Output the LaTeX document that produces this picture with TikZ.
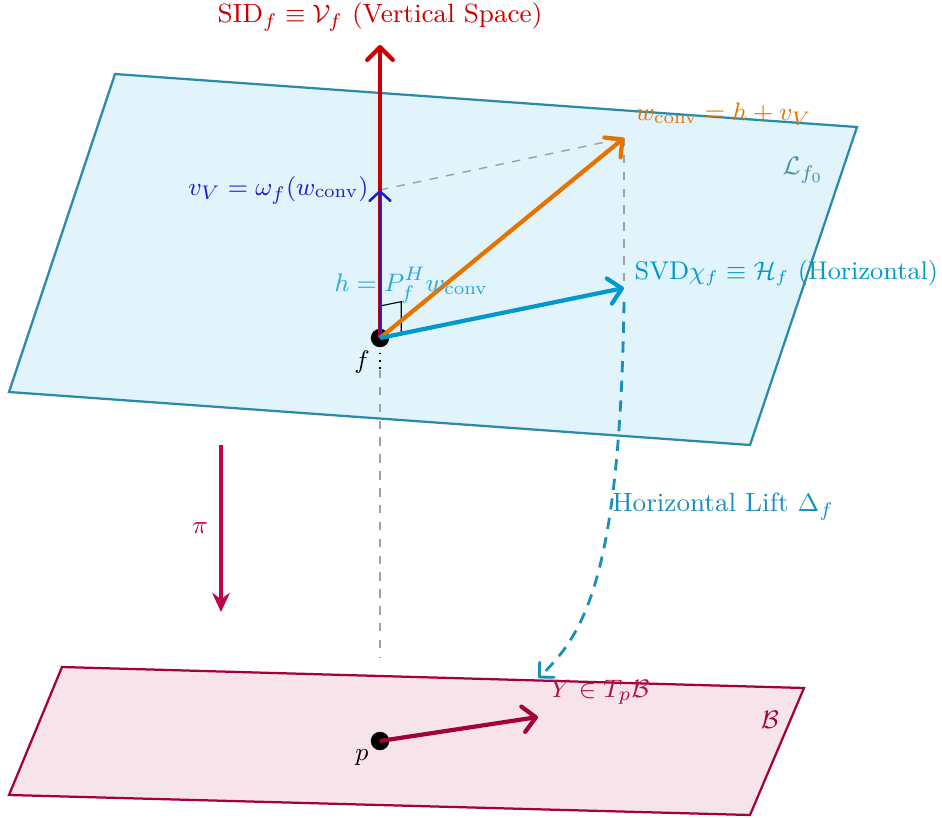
\documentclass[tikz,border=0pt]{standalone}
\usepackage{amsmath,amssymb}
\usetikzlibrary{arrows.meta,calc}
\definecolor{FiberFill}{HTML}{E1F3FB}
\definecolor{FiberLine}{HTML}{2A8AAA}
\definecolor{FiberText}{HTML}{4A8CA8}
\definecolor{BaseFill}{HTML}{F7E3EA}
\definecolor{BaseLine}{HTML}{A3003D}
\definecolor{BaseText}{HTML}{B0104A}
\definecolor{Crimson}{HTML}{C2004C}
\definecolor{VertRed}{HTML}{CC0000}
\definecolor{VBlue}{HTML}{1E1ECC}
\definecolor{Conv}{HTML}{E67300}
\definecolor{Horiz}{HTML}{0099CC}
\definecolor{HorizSoft}{HTML}{2AA8DA}
\definecolor{Lift}{HTML}{1A90B8}
\definecolor{Guide}{HTML}{A0A0A0}
\tikzset{
  every node/.style={font=\fontsize{9.4}{11}\selectfont},
  fiber/.style={draw=FiberLine,fill=FiberFill,line width=0.8pt},
  base/.style={draw=BaseLine,fill=BaseFill,line width=0.8pt},
  vec/.style={-{Straight Barb[length=1.6mm,width=3.2mm,round]},line width=1.5pt},
  thinvec/.style={-{Straight Barb[length=1.2mm,width=2.6mm,round]},line width=0.9pt},
  proj/.style={-{Stealth[length=2.4mm,width=2.2mm,inset=0.8mm]},line width=1.2pt},
  guide/.style={draw=Guide,dashed,line width=0.5pt},
  lift/.style={draw=Lift,line width=1pt,dash pattern=on 4pt off 3pt,-{Straight Barb[length=1.3mm,width=2.6mm,round]}},
  dot/.style={circle,fill=black,inner sep=0pt,minimum size=2.3mm}
}
\begin{document}
\begin{tikzpicture}
  \useasboundingbox (-4.75,-5.9875) rectangle (7.025,4.225);
  % the two planes
  \draw[fiber] (-3.3125,3.3) -- (5.9625,2.6375) -- (4.625,-1.3375) -- (-4.6375,-0.675) -- cycle;
  \draw[base] (-3.975,-4.1125) -- (5.3,-4.375) -- (4.625,-5.9625) -- (-4.6375,-5.7125) -- cycle;
  \node[text=FiberText] (lf) at (5.29,2.1) {$\mathcal{L}_{f_0}$};
  \node[text=BaseLine] (lb) at (4.875,-4.775) {$\mathcal{B}$};

  % points
  \node[dot] (f) at (0,0) {};
  \node[dot] (p) at (0,-5.0375) {};
  \node (flbl) at (-0.225,-0.3) {$f$};
  \node (plbl) at (-0.225,-5.25) {$p$};

  % tips
  \coordinate (sid) at (0,3.6625);
  \coordinate (vv) at (0,1.85);
  \coordinate (conv) at (3.05,2.5);
  \coordinate (svd) at (3.05,0.625);
  \coordinate (foot) at (0,-3.9875);
  \coordinate (ytip) at (1.975,-4.7375);
  \coordinate (liftstart) at (3.05,0.45);
  \coordinate (liftend) at (1.98,-4.25);
  \coordinate (pitop) at (-1.9875,-1.3375);
  \coordinate (pibot) at (-1.9875,-3.425);

  % guides
  \draw[black,dotted,line width=0.6pt] (f.center) -- (0,-0.4);
  \draw[guide] (0,-0.4) -- (foot);
  \draw[guide] (vv) -- (conv);
  \draw[guide] (conv) -- (svd);
  \draw[black,line width=0.4pt] ($(f.center)+(0,0.4)$) -- ++(0.265,0.054) -- ($(f.center)+(0.265,0.054)$);

  % vectors
  \draw[vec,VertRed] (f.center) -- (sid);
  \draw[thinvec,VBlue] (f.center) -- (vv);
  \draw[vec,Conv] (f.center) -- (conv);
  \draw[vec,Horiz] (f.center) -- (svd);
  \draw[vec,BaseLine] (p.center) -- (ytip);
  \draw[proj,Crimson] (pitop) -- (pibot);
  \draw[lift] (liftstart) .. controls (3.0,-3.0) and (2.55,-3.7) .. (liftend);

  % labels
  \node[text=VertRed] (sidlbl) at (0,4.0125) {SID$_f \equiv \mathcal{V}_f$ (Vertical Space)};
  \node[text=VBlue,anchor=east] (vvlbl) at (-0.02,1.85) {$v_V = \omega_f(w_{\text{conv}})$};
  \node[text=Conv,anchor=west] (convlbl) at (3.07,2.8) {$w_{\text{conv}} = h + v_V$};
  \node[text=Horiz,anchor=west,font=\fontsize{9.1}{11}\selectfont] (svdlbl) at (3.06,0.8125) {SVD$\chi_f \equiv \mathcal{H}_f$ (Horizontal)};
  \node[text=HorizSoft] (hlbl) at (0.39,0.66) {$h = P_f^H w_{\text{conv}}$};
  \node[text=Lift,anchor=west] (liftlbl) at (2.78,-2.1125) {Horizontal Lift $\Delta_f$};
  \node[text=Crimson] (pilbl) at (-2.25,-2.375) {$\pi$};
  \node[text=BaseText,anchor=west] (ylbl) at (2.01,-4.425) {$Y \in T_p\mathcal{B}$};
\end{tikzpicture}
\end{document}
